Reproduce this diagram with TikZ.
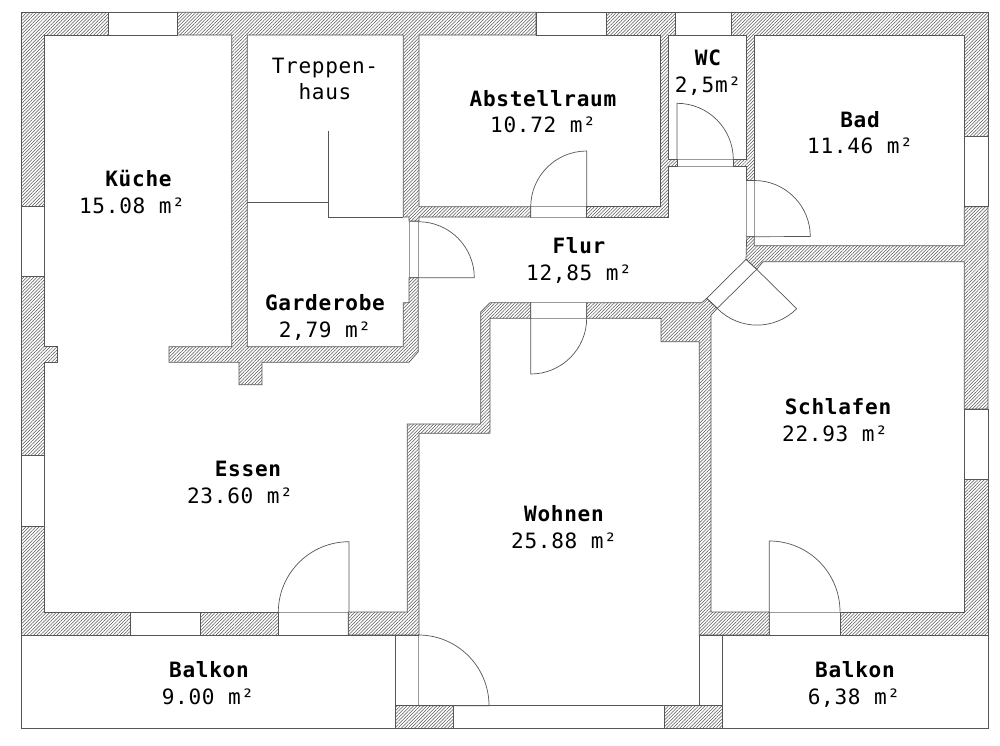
\documentclass[tikz,border=0pt]{standalone}
\usepackage{fontspec}
\setmonofont[LetterSpace=3.3]{DejaVu Sans Mono}
\usetikzlibrary{patterns.meta}
\definecolor{plan}{HTML}{555555}
\tikzset{
    wall/.style={draw=plan, line width=0.6pt, line join=miter, pattern={Lines[angle=45,distance=2pt,line width=0.45pt]}, pattern color=plan},
    frame/.style={draw=plan, line width=0.6pt},
    doorframe/.style={draw=plan!60, line width=0.5pt},
    leaf/.style={draw=plan, line width=0.6pt},
    roomname/.style={anchor=base, inner sep=0pt, yshift=-0.6pt, font=\ttfamily\bfseries\fontsize{18}{20}\selectfont, text=black},
    roomarea/.style={anchor=base, inner sep=0pt, yshift=-0.6pt, font=\ttfamily\fontsize{18}{20}\selectfont, text=black}
}
\begin{document}
\begin{tikzpicture}[x=0.03cm, y=-0.03cm]
    \useasboundingbox (0,0) rectangle (1000,745);

    % balconies
    \draw[frame] (21.5,635) rectangle (395.3,728);
    \draw[frame] (722.3,635) rectangle (988,728);

    % windows
    \foreach \xa/\ya/\xb/\yb in {108/12.3/177.5/35, 536/12.3/606/35, 675.7/12.3/731/35,
            21.5/206.5/44.5/276.7, 21.5/455.7/44.5/526,
            964.3/136.3/988/206.7, 964.3/409/988/479,
            130.3/612/200.7/635, 453.3/705/664.3/728, 699.3/635/722.3/705}
        \draw[frame] (\xa,\ya) rectangle (\xb,\yb);

    % door openings
    \foreach \xa/\ya/\xb/\yb in {278.3/612/348.3/635, 769.3/612/840/635, 395.3/635/418.3/705,
            530.7/206.7/586.7/217, 530.7/302.7/586.7/318.3,
            409/221/418.3/277.7, 677/159.3/733.3/166.7, 746.7/180.5/754.3/236.7}
        \draw[doorframe] (\xa,\ya) rectangle (\xb,\yb);
    \draw[frame] (746,259.3) -- (756.7,269.3) -- (717.3,308.3) -- (706.7,298.3) -- cycle;
    \draw[frame] (21.5,635) -- (419,635);
    \draw[frame] (395.3,635) -- (395.3,705);
    \draw[frame] (769.3,635) -- (840,635);

    % walls
    \draw[wall] (21.5,206.5) -- (21.5,12.3) -- (108,12.3) -- (108,35) -- (44.5,35) -- (44.5,206.5) -- cycle;
    \draw[wall] (177.5,12.3) -- (536,12.3) -- (536,35) -- (419,35) -- (419,206.7) -- (530.7,206.7) -- (530.7,217)
        -- (419,217) -- (419,221) -- (409,221) -- (409,217) -- (403.3,217) -- (403.3,35) -- (247.3,35)
        -- (247.3,346.7) -- (403.3,346.7) -- (403.3,302.7) -- (409,302.7) -- (409,277.7) -- (418.3,277.7)
        -- (418.3,351.7) -- (409,362.3) -- (262,362.3) -- (262,384.7) -- (239,384.7) -- (239,362.3)
        -- (169,362.3) -- (169,346.7) -- (231.7,346.7) -- (231.7,35) -- (177.5,35) -- cycle;
    \draw[wall] (606,12.3) -- (675.7,12.3) -- (675.7,35) -- (668.3,35) -- (668.3,159.3) -- (677,159.3) -- (677,166.7)
        -- (668.3,166.7) -- (668.3,217) -- (586.7,217) -- (586.7,206.7) -- (660.7,206.7) -- (660.7,35) -- (606,35) -- cycle;
    \draw[wall] (731,12.3) -- (988,12.3) -- (988,136.3) -- (964.3,136.3) -- (964.3,35) -- (754.3,35) -- (754.3,180.5)
        -- (746.7,180.5) -- (746.7,166.7) -- (733.3,166.7) -- (733.3,159.3) -- (746.7,159.3) -- (746.7,35) -- (731,35) -- cycle;
    \draw[wall] (964.3,206.7) -- (988,206.7) -- (988,409) -- (964.3,409) -- (964.3,261.7) -- (763,261.7) -- (756.7,269.3)
        -- (746,259.3) -- (746.7,236.7) -- (754.3,236.7) -- (754.3,245.7) -- (964.3,245.7) -- cycle;
    \draw[wall] (964.3,479) -- (988,479) -- (988,635) -- (840,635) -- (840,612) -- (964.3,612) -- cycle;
    \draw[wall] (586.7,302.7) -- (701.7,302.7) -- (706.7,298.3) -- (717.3,308.3) -- (711,315) -- (711,612) -- (769.3,612)
        -- (769.3,635) -- (699.3,635) -- (699.3,341.7) -- (661,341.7) -- (661,318.3) -- (586.7,318.3) -- cycle;
    \draw[wall] (530.7,302.7) -- (490,302.7) -- (480.7,312) -- (480.7,424) -- (407.3,424) -- (407.3,612) -- (348.3,612)
        -- (348.3,635) -- (419,635) -- (419,433.3) -- (490,433.3) -- (490,318.3) -- (530.7,318.3) -- cycle;
    \draw[wall] (21.5,276.7) -- (44.5,276.7) -- (44.5,346.7) -- (57.3,346.7) -- (57.3,362.3) -- (44.5,362.3)
        -- (44.5,455.7) -- (21.5,455.7) -- cycle;
    \draw[wall] (21.5,526) -- (44.5,526) -- (44.5,612) -- (130.3,612) -- (130.3,635) -- (21.5,635) -- cycle;
    \draw[wall] (200.7,612) rectangle (278.3,635);
    \draw[wall] (395.3,705) rectangle (453.3,728);
    \draw[wall] (664.3,705) rectangle (722.3,728);

    % door leaves
    \draw[leaf] (586.7,206.7) -- (586.7,151) arc[start angle=-90, end angle=-180, radius=56];
    \draw[leaf] (677,159.3) -- (677,103.3) arc[start angle=-90, end angle=0, radius=56.3];
    \draw[leaf] (754.3,180.5) arc[start angle=-90, end angle=0, radius=56] -- (754.3,236.7);
    \draw[leaf] (418.3,221.7) arc[start angle=-90, end angle=0, radius=56] -- (418.3,277.7);
    \draw[leaf] (530.7,318.3) -- (530.7,374) arc[start angle=90, end angle=0, radius=56];
    \draw[leaf] (796.7,308.7) -- (756.7,269.3);
    \draw[leaf] (796.7,308.7) arc[start angle=45, end angle=135, radius=56];
    \draw[leaf] (349,612) -- (349,541.7) arc[start angle=-90, end angle=-180, radius=70.7];
    \draw[leaf] (769.3,612) -- (769.3,541) arc[start angle=-90, end angle=0, radius=70.7];
    \draw[leaf] (418.3,635) arc[start angle=-90, end angle=0, radius=70.7] -- (418.3,705.7);

    % stairs
    \draw[frame] (328.3,131) -- (328.3,217) -- (403.3,217);
    \draw[frame] (247.3,202) -- (328.3,202);

    % rooms
    \node[roomname] (kuecheName) at (138.5,186) {Küche};
    \node[roomarea] (kuecheArea) at (132,213) {15.08 m²};
    \node[roomarea] (treppeA) at (325,73) {Treppen-};
    \node[roomarea] (treppeB) at (325,99) {haus};
    \node[roomname] (abstellName) at (543,106) {Abstellraum};
    \node[roomarea] (abstellArea) at (543,132) {10.72 m²};
    \node[roomname] (wcName) at (708,65) {WC};
    \node[roomarea] (wcArea) at (708,92) {2,5m²};
    \node[roomname] (badName) at (860,127) {Bad};
    \node[roomarea] (badArea) at (860,153) {11.46 m²};
    \node[roomname] (flurName) at (579,253) {Flur};
    \node[roomarea] (flurArea) at (579,280) {12,85 m²};
    \node[roomname] (gardeName) at (325,310) {Garderobe};
    \node[roomarea] (gardeArea) at (325,337) {2,79 m²};
    \node[roomname] (essenName) at (248,476) {Essen};
    \node[roomarea] (essenArea) at (240,503) {23.60 m²};
    \node[roomname] (wohnenName) at (564,521) {Wohnen};
    \node[roomarea] (wohnenArea) at (564,548) {25.88 m²};
    \node[roomname] (schlafenName) at (838,414) {Schlafen};
    \node[roomarea] (schlafenArea) at (835,441) {22.93 m²};
    \node[roomname] (balkonAName) at (209,677) {Balkon};
    \node[roomarea] (balkonAArea) at (208,704) {9.00 m²};
    \node[roomname] (balkonBName) at (855,677) {Balkon};
    \node[roomarea] (balkonBArea) at (854,704) {6,38 m²};
\end{tikzpicture}
\end{document}
